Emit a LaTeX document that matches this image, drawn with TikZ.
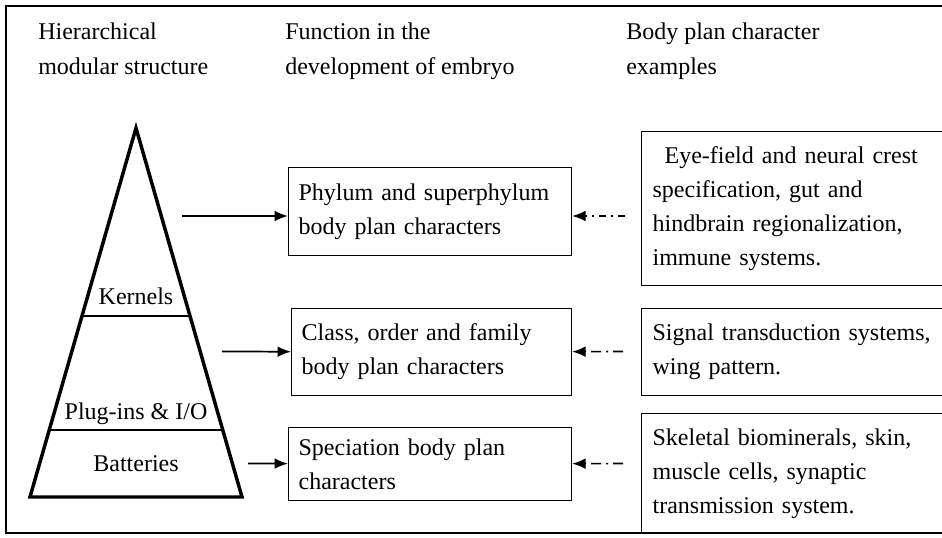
\documentclass[tikz,border=0pt]{standalone}
\usepackage{fontspec}
\setmainfont{Liberation Serif}
\usetikzlibrary{arrows.meta,calc}
\begin{document}
\begin{tikzpicture}[x=0.75pt,y=-0.75pt,
  txt/.style={font=\fontsize{18}{25.5}\selectfont},
  hdr/.style={txt, anchor=base west, inner sep=0pt},
  lbl/.style={txt, anchor=base, inner sep=0pt},
  mbox/.style={draw, line width=0.9pt, txt, align=left, anchor=north west,
               inner xsep=7.5pt, inner ysep=0pt},
  rbox/.style={draw, line width=0.9pt, txt, align=left, anchor=north west,
               inner xsep=8.25pt, inner ysep=0pt, text width=222.75pt},
  solidarr/.style={line width=1.3pt, -{Latex[length=10pt,width=8pt]}},
  dasharrA/.style={line width=1.2pt, -{Latex[length=10pt,width=8pt]},
                   dash pattern=on 5.25pt off 3.75pt on 1.5pt off 3.75pt},
  dasharrB/.style={line width=1.2pt, -{Latex[length=10pt,width=8pt]},
                   dash pattern=on 7.5pt off 3.75pt on 1.5pt off 3.75pt},
  tri/.style={line width=2.6pt, line join=miter},
  tier/.style={line width=1.1pt}
]
\useasboundingbox (0,0) rectangle (942,538);
\clip (0,0) rectangle (942,538);

% outer frame
\draw[line width=1.6pt] (960,6) -- (6,6) -- (6,533) -- (960,533);

% headers
\node[hdr] (h1a) at (38,40) {Hierarchical};
\node[hdr] (h1b) at (38,75) {modular structure};
\node[hdr] (h2a) at (285,40) {Function in the};
\node[hdr] (h2b) at (285,75) {development of embryo};
\node[hdr] (h3a) at (626,40) {Body plan character};
\node[hdr] (h3b) at (626,75) {examples};

% pyramid
\coordinate (apex) at (136,128);
\coordinate (bl) at (30,497);
\coordinate (br) at (242,497);
\draw[tri] (apex) -- (bl) -- (br) -- cycle;
\draw[tier] ($(apex)!0.5095!(bl)$) -- ($(apex)!0.5095!(br)$);
\draw[tier] ($(apex)!0.8184!(bl)$) -- ($(apex)!0.8184!(br)$);
\node[lbl] (k) at (136,305) {Kernels};
\node[lbl] (p) at (136,419) {Plug-ins \& I/O};
\node[lbl] (b) at (136,471) {Batteries};

% middle boxes
\node[mbox, text width=197.25pt, minimum height=66pt] (m1) at (288,167)
  {Phylum and superphylum\\body plan characters};
\node[mbox, text width=195pt, minimum height=65.25pt] (m2) at (291,308)
  {Class, order and family\\body plan characters};
\node[mbox, text width=197.25pt, minimum height=54.75pt] (m3) at (288,427)
  {Speciation body plan\\characters};

% right boxes
\node[rbox, minimum height=115.5pt] (r1) at (641,131)
  {\hspace*{0.5em}Eye-field and neural crest\\specification, gut and\\hindbrain regionalization,\\immune systems.};
\node[rbox, minimum height=65.25pt] (r2) at (641,308)
  {Signal transduction systems,\\wing pattern.};
\node[rbox, minimum height=90pt] (r3) at (641,413)
  {Skeletal biominerals, skin,\\muscle cells, synaptic\\transmission system.};

% solid arrows
\coordinate (s1) at (182,216);
\coordinate (s2) at (222,351.5);
\coordinate (s3) at (248,463.5);
\draw[solidarr] (s1) -- (m1.west |- s1);
\draw[solidarr] (s2) -- (m2);
\draw[solidarr] (s3) -- (m3);

% dash-dot arrows
\coordinate (d1) at (625,216);
\coordinate (d2) at (623,351.5);
\coordinate (d3) at (623,463.5);
\draw[dasharrA] (d1) -- (m1.east |- d1);
\draw[dasharrB] (d2) -- (m2);
\draw[dasharrB] (d3) -- (m3);
\end{tikzpicture}
\end{document}
